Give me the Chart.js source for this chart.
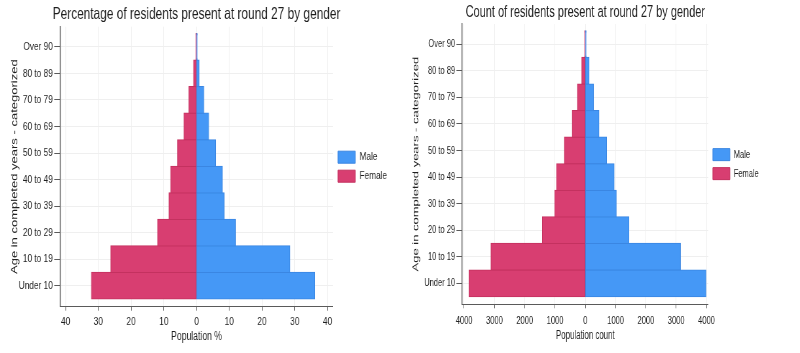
<!DOCTYPE html>
<html>
<head>
<meta charset="utf-8">
<script src="https://cdn.jsdelivr.net/npm/chart.js@4.4.1/dist/chart.umd.min.js"></script>
<style>
  body { margin: 0; background: #fff; }
  #wrap { position: relative; width: 800px; height: 353px; overflow: hidden; }
  canvas { position: absolute; top: 0; }
</style>
</head>
<body>
<div id="wrap">
  <!-- drawn wider, then squeezed to 400px like the original picture -->
  <canvas id="pct" width="556" height="353" style="left:0;width:400px;height:353px"></canvas>
  <canvas id="cnt" width="611" height="353" style="left:400px;width:400px;height:353px"></canvas>
</div>
<script>
// age groups, bottom to top
var categories = ['Under 10', '10 to 19', '20 to 29', '30 to 39', '40 to 49',
                  '50 to 59', '60 to 69', '70 to 79', '80 to 89', 'Over 90'];

var malePercent   = [36.1, 28.5, 11.9, 8.4, 7.9, 5.8, 3.7, 2.2, 0.8, 0.2];
var femalePercent = [32.1, 26.2, 11.9, 8.4, 7.9, 5.8, 3.8, 2.3, 0.9, 0.2];

var maleCount   = [3980, 3140, 1440, 1020, 950, 700, 450, 270, 125, 25];
var femaleCount = [3840, 3115, 1415, 1010, 950, 690, 430, 260, 115, 20];

// x tick positions (shown without sign)
var percentTicks = [-40, -30, -20, -10, 0, 10, 20, 30, 40];
var countTicks = [-4000, -3000, -2000, -1000, 0, 1000, 2000, 3000, 4000];

var seriesNames = ['Male', 'Female'];
var yTitle = 'Age in completed years - categorized';

var FONT = '"Liberation Sans", Arial, Helvetica, sans-serif';
var textColor = '#1e1e1e';
var axisColor = '#5a5a5a';
var gridColor = '#efefef';

function makePyramid(id, cfg) {
    var male = cfg.male.map(function (v, i) { return { x: v, y: i }; });
    var female = cfg.female.map(function (v, i) { return { x: -v, y: i }; });

    return new Chart(document.getElementById(id), {
        type: 'bar',
        data: {
            datasets: [{
                label: seriesNames[0],
                data: male,
                backgroundColor: '#4598f6',
                borderColor: '#3a86e2',
                borderWidth: 1,
                borderSkipped: false
            }, {
                label: seriesNames[1],
                data: female,
                backgroundColor: '#d83e71',
                borderColor: '#c4315f',
                borderWidth: 1,
                borderSkipped: false
            }]
        },
        options: {
            indexAxis: 'y',
            responsive: false,
            animation: false,
            devicePixelRatio: 1,
            layout: { padding: { left: cfg.padLeft, right: cfg.padRight, top: 0, bottom: 0 } },
            // inflate a little so no white seam shows between touching bars
            datasets: { bar: { barPercentage: 1, categoryPercentage: 1, inflateAmount: 0.6 } },
            plugins: {
                title: {
                    display: true,
                    text: cfg.title,
                    color: textColor,
                    font: { family: FONT, size: cfg.titleSize, weight: 'normal' },
                    padding: { top: cfg.titleTop, bottom: cfg.titleBottom }
                },
                legend: {
                    position: 'right',
                    fullSize: false,
                    labels: {
                        boxWidth: cfg.boxWidth,
                        boxHeight: 12,
                        padding: 7,
                        color: textColor,
                        font: { family: FONT, size: 11.5 }
                    }
                },
                tooltip: { enabled: false }
            },
            scales: {
                x: {
                    type: 'linear',
                    stacked: true,
                    min: -cfg.xMax,
                    max: cfg.xMax,
                    afterBuildTicks: function (s) {
                        s.ticks = cfg.ticks.map(function (v) { return { value: v }; });
                    },
                    afterFit: function (s) { s.height = cfg.xAxisHeight; },
                    grid: { color: gridColor, tickColor: axisColor, tickLength: 4 },
                    border: { color: axisColor, width: 1 },
                    ticks: {
                        padding: cfg.xTickPad,
                        color: textColor,
                        font: { family: FONT, size: 11.5 },
                        callback: function (v) { return Math.abs(v); }
                    },
                    title: {
                        display: true,
                        text: cfg.xTitle,
                        color: textColor,
                        font: { family: FONT, size: 12 },
                        padding: { top: 0, bottom: cfg.xTitlePad }
                    }
                },
                y: {
                    type: 'linear',
                    stacked: true,
                    offset: false,
                    min: -0.79,
                    max: 9.76,
                    afterFit: function (s) { s.width = cfg.yAxisWidth; },
                    grid: { offset: false, color: gridColor, tickColor: axisColor, tickLength: cfg.yTickLen },
                    border: { color: axisColor, width: 1.4 },
                    ticks: {
                        stepSize: 1,
                        includeBounds: false,
                        padding: 2,
                        color: textColor,
                        font: { family: FONT, size: 11.5 },
                        callback: function (v) { return categories[v]; }
                    },
                    title: {
                        display: true,
                        text: yTitle,
                        color: textColor,
                        font: { family: FONT, size: 13 },
                        padding: { top: cfg.yTitlePad, bottom: 0 }
                    }
                }
            }
        }
    });
}

makePyramid('pct', {
    title: 'Percentage of residents present at round 27 by gender',
    xTitle: 'Population %',
    male: malePercent,
    female: femalePercent,
    ticks: percentTicks,
    xMax: 41.7,
    titleSize: 16.5,
    boxWidth: 24,
    padLeft: -1.6,
    padRight: 8,
    titleTop: 5,
    titleBottom: 1.9,
    xAxisHeight: 46.3,
    xTickPad: 4.5,
    xTitlePad: 9,
    yAxisWidth: 85,
    yTickLen: 8,
    yTitlePad: 14.5
});

makePyramid('cnt', {
    title: 'Count of residents present at round 27 by gender',
    xTitle: 'Population count',
    male: maleCount,
    female: femaleCount,
    ticks: countTicks,
    xMax: 4060,
    titleSize: 16.8,
    boxWidth: 26,
    padLeft: 8.1,
    padRight: 53,
    titleTop: 1.9,
    titleBottom: 1.9,
    xAxisHeight: 48.7,
    xTickPad: 5.2,
    xTitlePad: 10,
    yAxisWidth: 87.1,
    yTickLen: 9,
    yTitlePad: 8.6
});
</script>
</body>
</html>
